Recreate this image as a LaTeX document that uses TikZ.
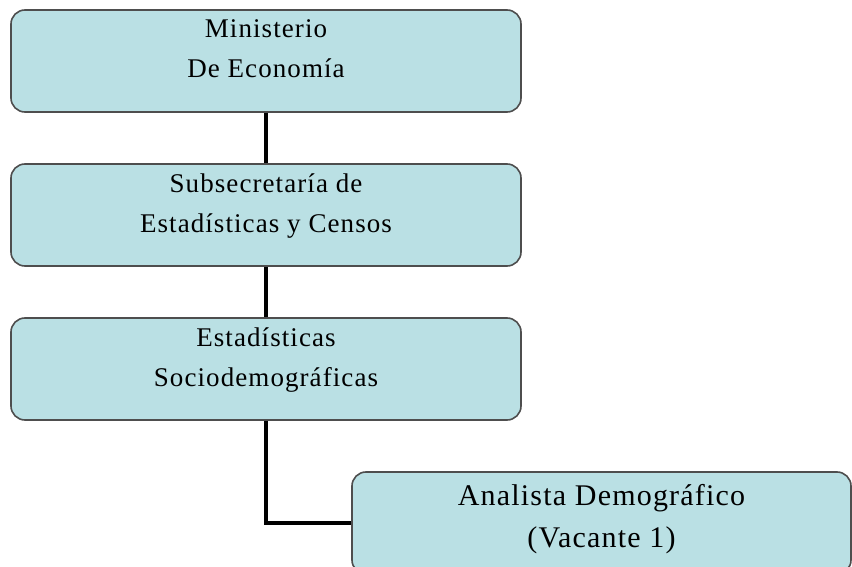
\documentclass[tikz,border=0pt]{standalone}
\usepackage{fontspec}
\setmainfont[LetterSpace=4]{Liberation Serif}
\usetikzlibrary{positioning}
\definecolor{boxfill}{RGB}{186,224,228}
\definecolor{boxline}{RGB}{78,78,78}
\tikzset{
	orgbox/.style={draw=boxline, line width=1.6pt, fill=boxfill, rounded corners=14pt, minimum width=510pt, minimum height=102pt, inner sep=0pt},
	orgtext/.style={anchor=north, align=center, inner sep=0pt, font=\fontsize{27}{40}\selectfont},
	link/.style={line width=4.5pt}
}
\begin{document}
\begin{tikzpicture}[x=1pt, y=-1pt]
		\useasboundingbox (0,0) rectangle (852,567);
		\clip (0,0) rectangle (852,567);
		\fill[white] (0,0) rectangle (852,567);
		\node[orgbox] (Min) at (266,61) {};
		\node[orgbox] (Sub) at (266,215) {};
		\node[orgbox] (Soc) at (266,369) {};
		\node[orgbox, minimum width=499pt] (Ana) at (601.5,523) {};
		\draw[link] (Min) -- (Sub);
		\draw[link] (Sub) -- (Soc);
		\draw[link] (Soc) |- (Ana);
		\node[orgtext] (MinT) at ([yshift=-10pt]Min.north) {Ministerio\\De Economía};
		\node[orgtext] (SubT) at ([yshift=-10pt]Sub.north) {Subsecretaría de\\Estadísticas y Censos};
		\node[orgtext] (SocT) at ([yshift=-10pt]Soc.north) {Estadísticas\\Sociodemográficas};
		\node[orgtext, font=\fontsize{30}{42}\selectfont] (AnaT) at ([yshift=-12.5pt]Ana.north) {Analista Demográfico\\(Vacante 1)};
	\end{tikzpicture}
\end{document}
